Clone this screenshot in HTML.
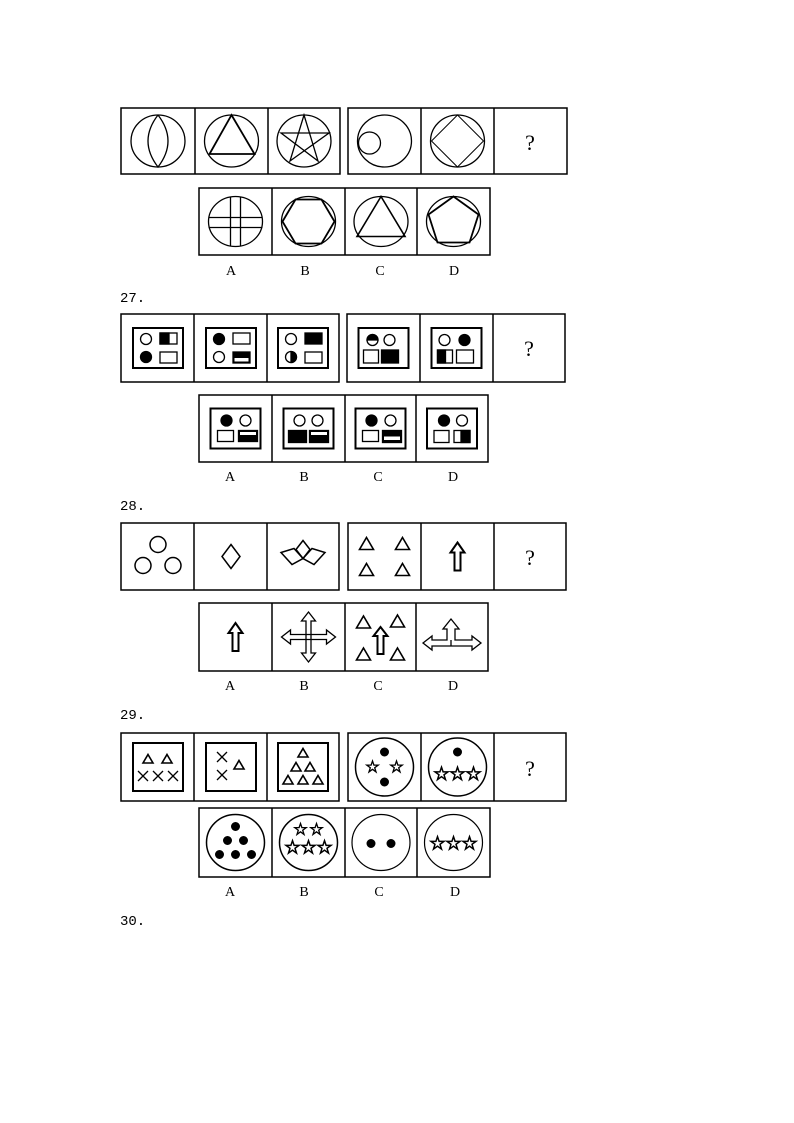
<!DOCTYPE html>
<html><head><meta charset="utf-8"><style>
html,body{margin:0;padding:0;background:#fff;}
svg{display:block;}
.l{font-family:"Liberation Serif",serif;font-size:14px;}
.q{font-family:"Liberation Serif",serif;font-size:22px;}
.n{font-family:"Liberation Mono",monospace;font-size:14px;}
</style></head><body>
<svg width="794" height="1123" viewBox="0 0 794 1123" xmlns="http://www.w3.org/2000/svg">
<defs>
<symbol id="star" viewBox="-7 -7 14 14" overflow="visible">
<polygon points="0,-6 1.4,-1.9 5.7,-1.9 2.2,0.7 3.5,4.9 0,2.3 -3.5,4.9 -2.2,0.7 -5.7,-1.9 -1.4,-1.9" fill="#fff" stroke="#000" stroke-width="1.3"/>
</symbol>
<symbol id="tri" overflow="visible"><polygon points="0,-6 7,6 -7,6" fill="none" stroke="#000" stroke-width="1.6"/></symbol>
<symbol id="tris" overflow="visible"><polygon points="0,-4.5 5,4 -5,4" fill="none" stroke="#000" stroke-width="1.6"/></symbol>
<symbol id="x" overflow="visible"><path d="M-5,-5L5,5M5,-5L-5,5" stroke="#000" stroke-width="1.3"/></symbol>
</defs>
<g fill="none" stroke="#000">
<g stroke-width="1.5">
<rect x="121" y="108" width="219" height="66"/><line x1="195" y1="108" x2="195" y2="174"/><line x1="268" y1="108" x2="268" y2="174"/>
<rect x="348" y="108" width="219" height="66"/><line x1="421" y1="108" x2="421" y2="174"/><line x1="494" y1="108" x2="494" y2="174"/>
<rect x="199" y="188" width="291" height="67"/><line x1="272" y1="188" x2="272" y2="255"/><line x1="345" y1="188" x2="345" y2="255"/><line x1="417" y1="188" x2="417" y2="255"/>
</g>
<g stroke-width="1.3">
<g transform="translate(158,141)"><ellipse rx="27" ry="26"/><path d="M0,-26Q-20,0 0,26Q20,0 0,-26"/></g>
<g transform="translate(231.5,141)"><ellipse rx="27" ry="26"/><polygon points="0,-26 23,13 -22,13" stroke-width="1.8"/></g>
<g transform="translate(304,141)"><ellipse rx="27" ry="26"/><polygon points="0,-26 14,20 -23,-8 25,-8 -14,20" stroke-width="1.3"/></g>
<g transform="translate(384.5,141)"><ellipse rx="27" ry="26"/><circle cx="-15" cy="2" r="11"/></g>
<g transform="translate(457.5,141)"><ellipse rx="27" ry="26"/><polygon points="0,-26 26,0 0,26 -26,0" stroke-width="1"/></g>
<g transform="translate(235.5,221.5)"><ellipse rx="27" ry="25"/><path d="M-27,-4H27M-27,6H27M-5,-25V25M5,-25V25"/></g>
<g transform="translate(308.5,221.5)"><ellipse rx="27" ry="25"/><polygon points="-13,-22 13,-22 26,0 13,22 -13,22 -26,0" stroke-width="1.8"/></g>
<g transform="translate(381,221.5)"><ellipse rx="27" ry="25"/><polygon points="0,-25 24,15 -24,15" stroke-width="1.6"/></g>
<g transform="translate(453.5,221.5)"><ellipse rx="27" ry="25"/><polygon points="0,-25 25,-7 16,21 -16,21 -25,-7" stroke-width="1.8"/></g>
</g>
<g stroke-width="1.5">
<rect x="121" y="314" width="218" height="68"/><line x1="194" y1="314" x2="194" y2="382"/><line x1="267" y1="314" x2="267" y2="382"/>
<rect x="347" y="314" width="218" height="68"/><line x1="420" y1="314" x2="420" y2="382"/><line x1="493" y1="314" x2="493" y2="382"/>
<rect x="199" y="395" width="289" height="67"/><line x1="272" y1="395" x2="272" y2="462"/><line x1="345" y1="395" x2="345" y2="462"/><line x1="416" y1="395" x2="416" y2="462"/>
<rect x="121" y="523" width="218" height="67"/><line x1="194" y1="523" x2="194" y2="590"/><line x1="267" y1="523" x2="267" y2="590"/>
<rect x="348" y="523" width="218" height="67"/><line x1="421" y1="523" x2="421" y2="590"/><line x1="494" y1="523" x2="494" y2="590"/>
<rect x="199" y="603" width="289" height="68"/><line x1="272" y1="603" x2="272" y2="671"/><line x1="345" y1="603" x2="345" y2="671"/><line x1="416" y1="603" x2="416" y2="671"/>
<rect x="121" y="733" width="218" height="68"/><line x1="194" y1="733" x2="194" y2="801"/><line x1="267" y1="733" x2="267" y2="801"/>
<rect x="348" y="733" width="218" height="68"/><line x1="421" y1="733" x2="421" y2="801"/><line x1="494" y1="733" x2="494" y2="801"/>
<rect x="199" y="808" width="291" height="69"/><line x1="272" y1="808" x2="272" y2="877"/><line x1="345" y1="808" x2="345" y2="877"/><line x1="417" y1="808" x2="417" y2="877"/>
</g>
</g>

<g stroke="#000" stroke-width="1.3">
<g transform="translate(158,348)">
<rect x="-25" y="-20" width="50" height="40" fill="none" stroke-width="2"/>
<circle cx="-12" cy="-9" r="5.5" fill="#fff"/><rect x="2" y="-15" width="17" height="11" fill="#fff"/><rect x="2" y="-15" width="9" height="11" fill="#000"/>
<circle cx="-12" cy="9" r="5.5" fill="#000"/><rect x="2" y="4" width="17" height="11" fill="#fff"/>
</g>
<g transform="translate(231,348)">
<rect x="-25" y="-20" width="50" height="40" fill="none" stroke-width="2"/>
<circle cx="-12" cy="-9" r="5.5" fill="#000"/><rect x="2" y="-15" width="17" height="11" fill="#fff"/>
<circle cx="-12" cy="9" r="5.5" fill="#fff"/><rect x="2" y="4" width="17" height="11" fill="#000"/><rect x="3.5" y="10" width="14" height="3.5" fill="#fff" stroke="none"/>
</g>
<g transform="translate(303,348)">
<rect x="-25" y="-20" width="50" height="40" fill="none" stroke-width="2"/>
<circle cx="-12" cy="-9" r="5.5" fill="#fff"/><rect x="2" y="-15" width="17" height="11" fill="#000"/>
<circle cx="-12" cy="9" r="5.5" fill="#fff"/><path d="M-12,3.5A5.5,5.5 0 0 1 -12,14.5Z" fill="#000"/><rect x="2" y="4" width="17" height="11" fill="#fff"/>
</g>
<g transform="translate(383.5,348)">
<rect x="-25" y="-20" width="50" height="40" fill="none" stroke-width="2"/>
<circle cx="-11" cy="-8" r="5.5" fill="#fff"/><path d="M-16.5,-8A5.5,5.5 0 0 1 -5.5,-8Z" fill="#000"/><circle cx="6" cy="-8" r="5.5" fill="#fff"/>
<rect x="-20" y="2" width="15" height="13" fill="#fff"/><rect x="-2" y="2" width="17" height="13" fill="#000"/>
</g>
<g transform="translate(456.5,348)">
<rect x="-25" y="-20" width="50" height="40" fill="none" stroke-width="2"/>
<circle cx="-12" cy="-8" r="5.5" fill="#fff"/><circle cx="8" cy="-8" r="5.5" fill="#000"/>
<rect x="-19" y="2" width="15" height="13" fill="#fff"/><rect x="-19" y="2" width="8" height="13" fill="#000"/><rect x="0" y="2" width="17" height="13" fill="#fff"/>
</g>
<g transform="translate(235.5,428.5)">
<rect x="-25" y="-20" width="50" height="40" fill="none" stroke-width="2"/>
<circle cx="-9" cy="-8" r="5.5" fill="#000"/><circle cx="10" cy="-8" r="5.5" fill="#fff"/>
<rect x="-18" y="2" width="16" height="11" fill="#fff"/><rect x="3" y="2" width="19" height="11" fill="#000"/><rect x="4.5" y="3.5" width="16" height="3" fill="#fff" stroke="none"/>
</g>
<g transform="translate(308.5,428.5)">
<rect x="-25" y="-20" width="50" height="40" fill="none" stroke-width="2"/>
<circle cx="-9" cy="-8" r="5.5" fill="#fff"/><circle cx="9" cy="-8" r="5.5" fill="#fff"/>
<rect x="-20" y="2" width="18" height="12" fill="#000"/><rect x="1" y="2" width="19" height="12" fill="#000"/><rect x="2.5" y="3.5" width="16" height="3" fill="#fff" stroke="none"/>
</g>
<g transform="translate(380.5,428.5)">
<rect x="-25" y="-20" width="50" height="40" fill="none" stroke-width="2"/>
<circle cx="-9" cy="-8" r="5.5" fill="#000"/><circle cx="10" cy="-8" r="5.5" fill="#fff"/>
<rect x="-18" y="2" width="16" height="11" fill="#fff"/><rect x="2" y="2" width="19" height="12" fill="#000"/><rect x="3.5" y="8" width="16" height="3.5" fill="#fff" stroke="none"/>
</g>
<g transform="translate(452,428.5)">
<rect x="-25" y="-20" width="50" height="40" fill="none" stroke-width="2"/>
<circle cx="-8" cy="-8" r="5.5" fill="#000"/><circle cx="10" cy="-8" r="5.5" fill="#fff"/>
<rect x="-18" y="2" width="15" height="12" fill="#fff"/><rect x="2" y="2" width="16" height="12" fill="#fff"/><rect x="9" y="2" width="9" height="12" fill="#000"/>
</g>
</g>

<g fill="none" stroke="#000" stroke-width="1.5">
<g transform="translate(158,556.5)"><circle cx="0" cy="-12" r="8"/><circle cx="-15" cy="9" r="8"/><circle cx="15" cy="9" r="8"/></g>
<g transform="translate(231,556.5)"><polygon points="0,-12 9,0 0,12 -9,0"/></g>
<g transform="translate(303,556.5)"><polygon points="0,-16 7,-7 0,2 -7,-7"/><polygon points="0,2 -9,-8 -22,-4 -11,8"/><polygon points="0,2 9,-8 22,-4 11,8"/></g>
<g transform="translate(384.5,556.5)"><use href="#tri" x="-18" y="-13"/><use href="#tri" x="18" y="-13"/><use href="#tri" x="-18" y="13"/><use href="#tri" x="18" y="13"/></g>
<g transform="translate(457.5,556.5)"><polygon points="0,-14 7,-4 3,-4 3,14 -3,14 -3,-4 -7,-4" stroke-width="2"/></g>
<g transform="translate(235.5,637)"><polygon points="0,-14 7,-4 3,-4 3,14 -3,14 -3,-4 -7,-4" stroke-width="2"/></g>
<g transform="translate(308.5,637)" stroke-width="1.3">
<polygon points="0,-25 7,-16 2.5,-16 2.5,16 7,16 0,25 -7,16 -2.5,16 -2.5,-16 -7,-16"/>
<polygon points="-27,0 -18,-7 -18,-2.5 18,-2.5 18,-7 27,0 18,7 18,2.5 -18,2.5 -18,7"/>
</g>
<g transform="translate(380.5,637)"><use href="#tri" x="-17" y="-15"/><use href="#tri" x="17" y="-16"/><use href="#tri" x="-17" y="17"/><use href="#tri" x="17" y="17"/><polygon points="0,-10 7,-1 3,-1 3,17 -3,17 -3,-1 -7,-1" stroke-width="2"/></g>
<g transform="translate(452,637)" stroke-width="1.3">
<polygon points="-29,6 -20,-1 -20,3 -5,3 -5,-8 -9,-8 -1,-18 7,-8 3,-8 3,3 20,3 20,-1 29,6 20,13 20,9 -20,9 -20,13"/>
<path d="M-1,3V9"/>
</g>
</g>

<g stroke="#000">
<g transform="translate(158,767)" fill="none"><rect x="-25" y="-24" width="50" height="48" stroke-width="2"/><use href="#tris" x="-10" y="-8"/><use href="#tris" x="9" y="-8"/><use href="#x" x="-15" y="9"/><use href="#x" x="0" y="9"/><use href="#x" x="15" y="9"/></g>
<g transform="translate(231,767)" fill="none"><rect x="-25" y="-24" width="50" height="48" stroke-width="2"/><use href="#x" x="-9" y="-10"/><use href="#x" x="-9" y="8"/><use href="#tris" x="8" y="-2"/></g>
<g transform="translate(303,767)" fill="none"><rect x="-25" y="-24" width="50" height="48" stroke-width="2"/><use href="#tris" x="0" y="-14"/><use href="#tris" x="-7" y="0"/><use href="#tris" x="7" y="0"/><use href="#tris" x="-15" y="13"/><use href="#tris" x="0" y="13"/><use href="#tris" x="15" y="13"/></g>
<g transform="translate(384.5,767)"><ellipse rx="29" ry="29" fill="none" stroke-width="1.5"/><circle cx="0" cy="-15" r="4" fill="#000"/><circle cx="0" cy="15" r="4" fill="#000"/><use href="#star" x="-19" y="-7" width="14" height="14"/><use href="#star" x="5" y="-7" width="14" height="14"/></g>
<g transform="translate(457.5,767)"><ellipse rx="29" ry="29" fill="none" stroke-width="1.5"/><circle cx="0" cy="-15" r="4" fill="#000"/><use href="#star" x="-24" y="-1" width="16" height="16"/><use href="#star" x="-8" y="-1" width="16" height="16"/><use href="#star" x="8" y="-1" width="16" height="16"/></g>
<g transform="translate(235.5,842.5)"><ellipse rx="29" ry="28" fill="none" stroke-width="1.5"/><circle cx="0" cy="-16" r="4" fill="#000"/><circle cx="-8" cy="-2" r="4" fill="#000"/><circle cx="8" cy="-2" r="4" fill="#000"/><circle cx="-16" cy="12" r="4" fill="#000"/><circle cx="0" cy="12" r="4" fill="#000"/><circle cx="16" cy="12" r="4" fill="#000"/></g>
<g transform="translate(308.5,842.5)"><ellipse rx="29" ry="28" fill="none" stroke-width="1.5"/><use href="#star" x="-15" y="-20" width="14" height="14"/><use href="#star" x="1" y="-20" width="14" height="14"/><use href="#star" x="-24" y="-3" width="16" height="16"/><use href="#star" x="-8" y="-3" width="16" height="16"/><use href="#star" x="8" y="-3" width="16" height="16"/></g>
<g transform="translate(381,842.5)"><ellipse rx="29" ry="28" fill="none" stroke-width="1.2"/><circle cx="-10" cy="1" r="4" fill="#000"/><circle cx="10" cy="1" r="4" fill="#000"/></g>
<g transform="translate(453.5,842.5)"><ellipse rx="29" ry="28" fill="none" stroke-width="1.2"/><use href="#star" x="-24" y="-7" width="16" height="16"/><use href="#star" x="-8" y="-7" width="16" height="16"/><use href="#star" x="8" y="-7" width="16" height="16"/></g>
</g>

<g fill="#000">
<text class="q" x="530" y="150" text-anchor="middle">?</text>
<text class="q" x="529" y="356" text-anchor="middle">?</text>
<text class="q" x="530" y="565" text-anchor="middle">?</text>
<text class="q" x="530" y="776" text-anchor="middle">?</text>
<g class="l" text-anchor="middle">
<text x="231" y="275">A</text><text x="305" y="275">B</text><text x="380" y="275">C</text><text x="454" y="275">D</text>
<text x="230" y="481">A</text><text x="304" y="481">B</text><text x="378" y="481">C</text><text x="453" y="481">D</text>
<text x="230" y="690">A</text><text x="304" y="690">B</text><text x="378" y="690">C</text><text x="453" y="690">D</text>
<text x="230" y="896">A</text><text x="304" y="896">B</text><text x="379" y="896">C</text><text x="455" y="896">D</text>
</g>
<g class="n">
<text x="120" y="302">27.</text>
<text x="120" y="510">28.</text>
<text x="120" y="719">29.</text>
<text x="120" y="925">30.</text>
</g>
</g>
</svg>
</body></html>
